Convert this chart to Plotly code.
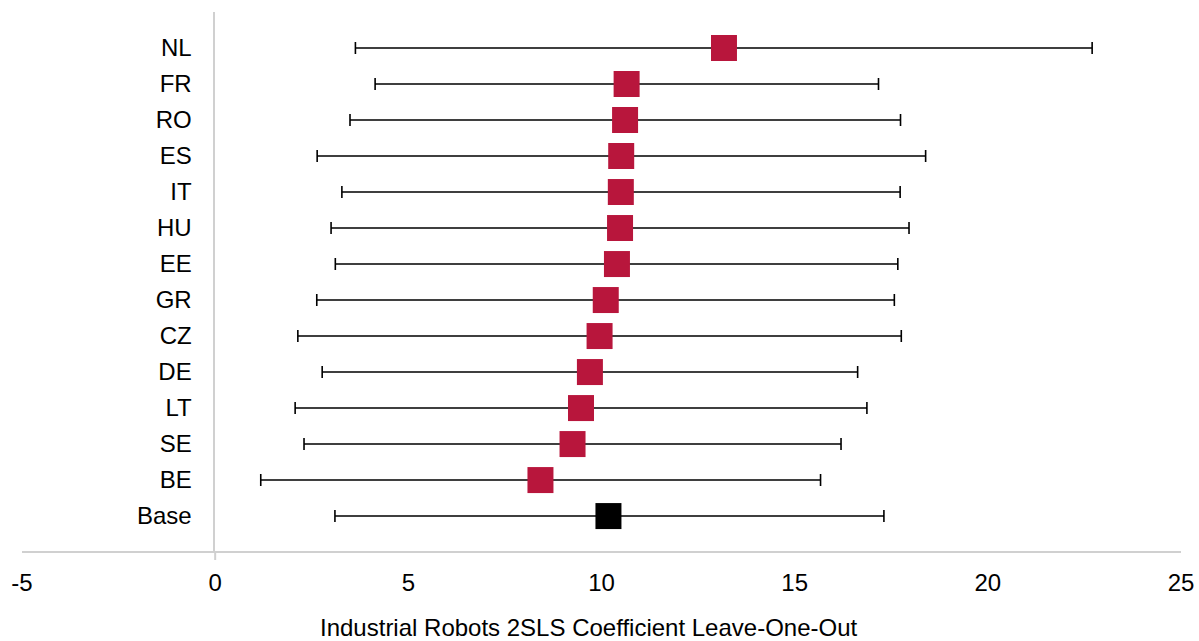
import plotly.graph_objects as go

countries = ["Base", "BE", "SE", "LT", "DE", "CZ", "GR", "EE", "HU", "IT", "ES", "RO", "FR", "NL"]
coef = [10.18, 8.42, 9.25, 9.47, 9.70, 9.95, 10.11, 10.40, 10.48, 10.50, 10.51, 10.61, 10.65, 13.17]
lower = [3.10, 1.18, 2.30, 2.07, 2.77, 2.14, 2.63, 3.11, 3.00, 3.28, 2.64, 3.49, 4.14, 3.63]
upper = [17.31, 15.67, 16.20, 16.87, 16.63, 17.76, 17.58, 17.67, 17.96, 17.73, 18.39, 17.74, 17.17, 22.70]
x_ticks = [-5, 0, 5, 10, 15, 20, 25]
x_title = "Industrial Robots 2SLS Coefficient Leave-One-Out"

ypos = list(range(len(countries)))
colors = ["#000000"] + ["#B8163C"] * (len(countries) - 1)

fig = go.Figure()
fig.add_trace(go.Scatter(
    x=coef, y=ypos, mode="markers",
    marker=dict(symbol="square", size=26, color=colors, line=dict(width=0)),
    error_x=dict(type="data", symmetric=False,
                 array=[u - c for u, c in zip(upper, coef)],
                 arrayminus=[c - l for c, l in zip(coef, lower)],
                 color="#000000", thickness=1.6, width=6),
    showlegend=False, hoverinfo="skip",
))

font = dict(family="Liberation Sans, Arial, sans-serif", size=24, color="#000000")

fig.update_layout(
    width=1199, height=641,
    margin=dict(l=22, r=18, t=12, b=90, autoexpand=False),
    plot_bgcolor="white", paper_bgcolor="white",
    font=font,
    xaxis=dict(range=[-5, 25], tickvals=x_ticks, ticktext=[str(v) for v in x_ticks],
               showgrid=False, zeroline=False, showline=True, linecolor="#d0d0d0", linewidth=2,
               ticks="", ticklabelstandoff=9, tickfont=font, automargin=False),
    yaxis=dict(range=[-0.97, 14.0], tickvals=ypos, ticktext=countries,
               anchor="free", position=(213.5 - 22) / 1159,
               showgrid=False, zeroline=False, showline=True, linecolor="#d0d0d0", linewidth=2,
               ticks="", ticklabelstandoff=16, tickfont=font, automargin=False),
    shapes=[dict(type="line", xref="x", yref="paper", x0=0, x1=0, y0=0, y1=-9 / 539,
                 line=dict(color="#d0d0d0", width=2))],
    annotations=[dict(text=x_title, xref="paper", yref="paper",
                      x=(589 - 22) / 1159, y=-(627 - 551) / 539,
                      xanchor="center", yanchor="middle", showarrow=False, font=font)],
)

fig.write_html("out.html")
